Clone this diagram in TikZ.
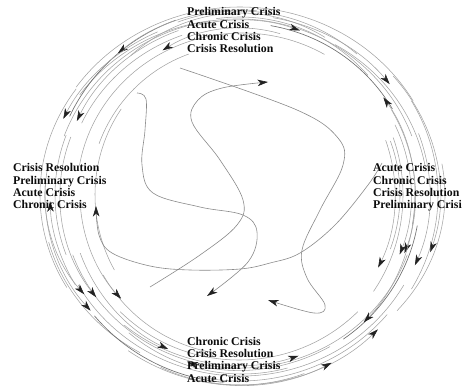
\documentclass[tikz,border=0pt]{standalone}
\usepackage{fontspec}
\setmainfont{Liberation Serif}
\usetikzlibrary{arrows.meta}
\definecolor{CRLine}{HTML}{A4A4A4}
\definecolor{CRLineDark}{HTML}{6E6E6E}
\definecolor{CRCurve}{HTML}{8A8A8A}
\definecolor{CRTip}{HTML}{222222}
\definecolor{CRInk}{HTML}{0C0C0C}
\tikzset{
  ring/.style={draw=CRLine,line width=0.55pt},
  ringdark/.style={ring,draw=CRLineDark,line width=0.65pt},
  ringtip/.style={ring,-{Stealth[length=10.5pt,width=6.5pt,inset=3pt,color=CRTip]}},
  wander/.style={draw=CRCurve,line width=0.6pt},
  wandertip/.style={wander,-{Stealth[length=10.5pt,width=6.5pt,inset=3pt,color=CRTip]}},
  statelist/.style={text=CRInk,font=\fontsize{11.8}{12.3}\selectfont\bfseries,
                    align=left,inner sep=0pt,anchor=north west},
}

\begin{document}
\begin{tikzpicture}[x=1pt,y=-1pt]
    \useasboundingbox (0,0) rectangle (462,385);
    \coordinate (hub) at (240,195);

    % plain arcs of the ring
    \foreach \dx/\dy/\rx/\ry/\a/\b in {-2/2/185/178/200/340, 2/-2/165/160/190/300,
        0/0/200/188/215/330, 0/1/178/172/20/160, 1/-1/188/182/30/150,
        -1/0/168/165/45/135, 0/0/200/185/150/215, 0/0/185/175/160/200,
        0/0/160/158/-20/20, 0/0/198/188/-30/30, 0/0/170/182/230/300,
        0/0/192/186/40/100, 0/0/150/150/200/250, 0/0/205/180/-10/40,
        0/0/145/150/150/215, 0/0/182/184/250/310, 3/0/178/170/205/250,
        -3/2/192/178/215/262, 0/-2/172/176/262/318, 2/2/186/176/300/350,
        0/0/163/168/340/395, -2/0/196/182/120/165, 2/3/176/176/75/130,
        0/0/188/190/70/115, 0/0/158/160/100/150}
      \draw[ring] (hub) ++(\dx,\dy) ++({\rx*cos(\a)},{\ry*sin(\a)})
        arc[start angle=\a,end angle=\b,x radius=\rx,y radius=\ry];
    \foreach \rx/\ry/\a/\b in {188/186/205/250, 176/172/280/330,
        190/188/95/140, 180/176/10/55}
      \draw[ringdark] (hub) ++({\rx*cos(\a)},{\ry*sin(\a)})
        arc[start angle=\a,end angle=\b,x radius=\rx,y radius=\ry];

    % arcs of the ring that end in a tip
    \foreach \rx/\ry/\a/\b in {155/167/285/240, 190/185/275/230, 180/175/250/205,
        195/180/245/205, 175/175/255/290, 190/180/280/322, 175/170/370/325,
        155/160/-20/27, 175/170/-30/20, 171/166/-25/21, 190/180/-20/23,
        200/185/-40/18, 175/180/0/45, 195/190/100/45, 180/170/130/71,
        195/190/125/62, 195/165/190/143, 180/170/200/143, 195/180/185/140,
        160/155/175/138, 170/170/160/115, 180/175/60/107, 190/180/150/178}
      \draw[ringtip] (hub) ++({\rx*cos(\a)},{\ry*sin(\a)})
        arc[start angle=\a,end angle=\b,x radius=\rx,y radius=\ry];

    % curves inside
    \draw[wandertip] plot[smooth,tension=0.6] coordinates {(180,68) (297,110)
      (338,138) (343,165) (320,210) (302,250) (307,278) (325,305) (314,313) (268,300)};
    \draw[wandertip] plot[smooth,tension=0.6] coordinates {(382,163) (368,185)
      (335,225) (300,253) (270,263) (240,269) (190,270) (150,266) (112,253)
      (99,235) (96,206)};
    \draw[wandertip] plot[smooth,tension=0.6] coordinates {(137,93) (146,99)
      (145,130) (142,165) (153,193) (200,207) (243,215) (257,232) (248,262) (207,296)};
    \draw[wandertip] plot[smooth,tension=0.6] coordinates {(150,287) (200,255)
      (237,225) (243,200) (220,160) (192,122) (198,100) (222,88) (268,82)};

    \node[statelist] (topstates) at (187,7.5)
      {Preliminary Crisis\\Acute Crisis\\Chronic Crisis\\Crisis Resolution};
    \node[statelist] (leftstates) at (13,163.5)
      {Crisis Resolution\\Preliminary Crisis\\Acute Crisis\\Chronic Crisis};
    \node[statelist] (rightstates) at (373,163.5)
      {Acute Crisis\\Chronic Crisis\\Crisis Resolution\\Preliminary Crisis};
    \node[statelist] (bottomstates) at (187,337)
      {Chronic Crisis\\Crisis Resolution\\Preliminary Crisis\\Acute Crisis};
  \end{tikzpicture}
\end{document}
